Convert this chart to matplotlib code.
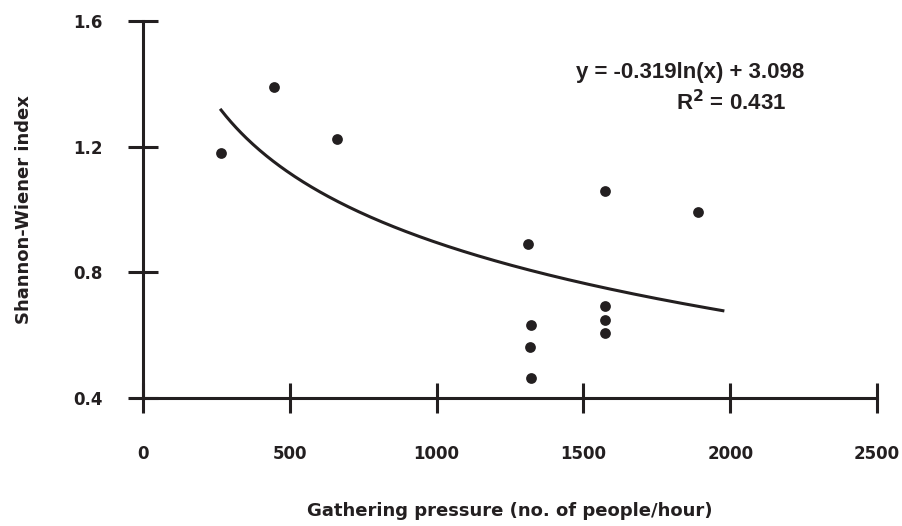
import numpy as np
import matplotlib.pyplot as plt

plt.rcParams["font.family"] = ["DejaVu Sans"]
plt.rcParams["font.weight"] = "bold"

# ---------------- Data ----------------
pressure = [266, 446, 660, 1312, 1322, 1317, 1322, 1573, 1573, 1573, 1573, 1890]
shannon = [1.18, 1.39, 1.225, 0.89, 0.631, 0.561, 0.464, 1.06, 0.692, 0.648, 0.607, 0.992]

# log trendline y = a ln(x) + b
FIT_A = -0.319
FIT_B = 3.098
FIT_RANGE = (266, 1975)

X_TICKS = [0, 500, 1000, 1500, 2000, 2500]
Y_TICKS = [0.4, 0.8, 1.2, 1.6]

INK = "#231f20"


def main():
    fig = plt.figure(figsize=(9.02, 5.26), dpi=100)
    ax = fig.add_axes([0.1585, 0.2439, 0.8138, 0.7158])

    ax.scatter(pressure, shannon, s=60, color=INK, zorder=3, linewidths=0)

    xf = np.linspace(FIT_RANGE[0], FIT_RANGE[1], 300)
    ax.plot(xf, FIT_A * np.log(xf) + FIT_B, color=INK, linewidth=2.2)

    ax.set_xlim(0, 2500)
    ax.set_ylim(0.4, 1.6)
    ax.set_xticks(X_TICKS)
    ax.set_xticklabels([str(t) for t in X_TICKS])
    ax.set_yticks(Y_TICKS)
    ax.set_yticklabels([f"{t:.1f}" for t in Y_TICKS])

    for side in ("top", "right"):
        ax.spines[side].set_visible(False)
    for side in ("left", "bottom"):
        ax.spines[side].set_linewidth(2.2)
        ax.spines[side].set_color(INK)

    ax.tick_params(axis="both", direction="inout", length=21.6, width=2.2,
                   color=INK, labelsize=12, labelcolor=INK)
    ax.tick_params(axis="x", pad=23)
    ax.tick_params(axis="y", pad=18)

    ax.set_xlabel("Gathering pressure (no. of people/hour)", fontsize=13,
                  fontweight="bold", color=INK, labelpad=28)
    ax.set_ylabel("Shannon-Wiener index", fontsize=13, fontweight="bold",
                  color=INK, labelpad=29)

    eq_font = ["Liberation Sans", "DejaVu Sans"]
    ax.text(1863, 1.438, "y = -0.319ln(x) + 3.098", fontsize=16, fontweight="bold",
            family=eq_font, ha="center", va="center", color=INK)
    ax.text(2003, 1.339, r"R$^{\mathbf{2}}$ = 0.431", fontsize=16, fontweight="bold",
            family=eq_font, ha="center", va="center", color=INK)

    fig.savefig("out.png", dpi=100)
    plt.close(fig)


if __name__ == "__main__":
    main()
